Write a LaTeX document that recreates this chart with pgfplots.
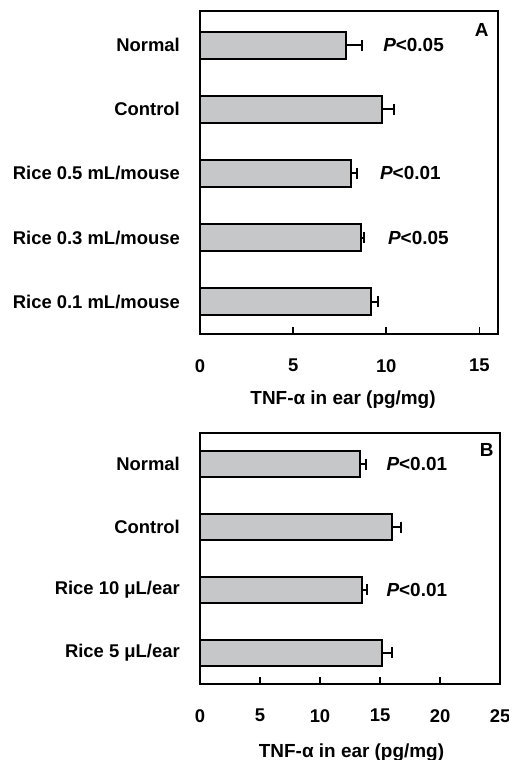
\documentclass[border=0pt]{standalone}
\usepackage{fontspec}
\setmainfont{Liberation Sans}
\usepackage{pgfplots}
\pgfplotsset{compat=1.18}
\definecolor{barfill}{HTML}{C6C7C9}
\newcommand{\lf}{\bfseries\fontsize{18.5}{22}\selectfont}
\newcommand{\xf}{\bfseries\fontsize{19}{22}\selectfont}
\pgfplotsset{
  common/.style={
    scale only axis,
    xbar,
    anchor=north west,
    axis line style={line width=2bp, black},
    tick align=inside,
    xtick pos=lower,
    ytick pos=left,
    major tick length=7bp,
    xtick style={line width=1.6bp, black},
    ytick style={draw=none},
    tick label style={font=\lf},
    /pgf/number format/assume math mode=true,
    xticklabel style={inner sep=0pt, yshift=-25bp},
    yticklabel style={inner sep=0pt, xshift=-20bp},
    label style={font=\xf},
    clip=false,
    error bars/x dir=plus,
    error bars/x explicit,
    error bars/error mark=|,
    error bars/error bar style={line width=2bp, black},
    error bars/error mark options={black, line width=2bp, mark size=5.5bp},
  },
  barstyle/.style={fill=barfill, draw=black, line width=2bp}
}
\begin{document}
\begin{tikzpicture}
\useasboundingbox (0,0) rectangle (509bp,-760bp);
% Panel A
\begin{axis}[common, at={(200bp,-11bp)}, width=298bp, height=323bp,
  xmin=0, xmax=16, xtick={0,5,10,15},
  ymin=-0.5, ymax=4.53, ytick={0,1,2,3,4},
  yticklabels={Rice 0.1 mL/mouse, Rice 0.3 mL/mouse, Rice 0.5 mL/mouse, Control, Normal},
  bar width=27bp,
  xlabel={TNF-α in ear (pg/mg)},
  xlabel style={at={(axis description cs:0.48,0)}, anchor=base, yshift=-70bp}]
\addplot[barstyle] coordinates {
  (9.20,0) +- (0.35,0)
  (8.63,1) +- (0.20,0)
  (8.09,2) +- (0.36,0)
  (9.77,3) +- (0.63,0)
  (7.86,4) +- (0.85,0)
};
\node[anchor=west, font=\xf] at (axis cs:9.65,4) {\textit{P}<0.05};
\node[anchor=west, font=\xf] at (axis cs:9.48,2) {\textit{P}<0.01};
\node[anchor=west, font=\xf] at (axis cs:9.91,1) {\textit{P}<0.05};
\node[anchor=north east, font=\xf] at ([xshift=-6bp, yshift=-9bp]rel axis cs:1,1) {A};
\end{axis}
% Panel B
\begin{axis}[common, at={(200bp,-433bp)}, width=300bp, height=251bp,
  xmin=0, xmax=25, xtick={0,5,10,15,20,25},
  ymin=-0.5, ymax=3.5, ytick={0,1,2,3},
  yticklabels={Rice 5 μL/ear, Rice 10 μL/ear, Control, Normal},
  bar width=26bp,
  xlabel={TNF-α in ear (pg/mg)},
  xlabel style={at={(axis description cs:0.505,0)}, anchor=base, yshift=-73bp}]
\addplot[barstyle] coordinates {
  (15.19,0) +- (0.78,0)
  (13.53,1) +- (0.36,0)
  (16.03,2) +- (0.70,0)
  (13.33,3) +- (0.47,0)
};
\node[anchor=west, font=\xf] at (axis cs:15.25,3) {\textit{P}<0.01};
\node[anchor=west, font=\xf] at (axis cs:15.25,1) {\textit{P}<0.01};
\node[anchor=north east, font=\xf] at ([xshift=-3bp, yshift=-7bp]rel axis cs:1,1) {B};
\end{axis}
\end{tikzpicture}
\end{document}
